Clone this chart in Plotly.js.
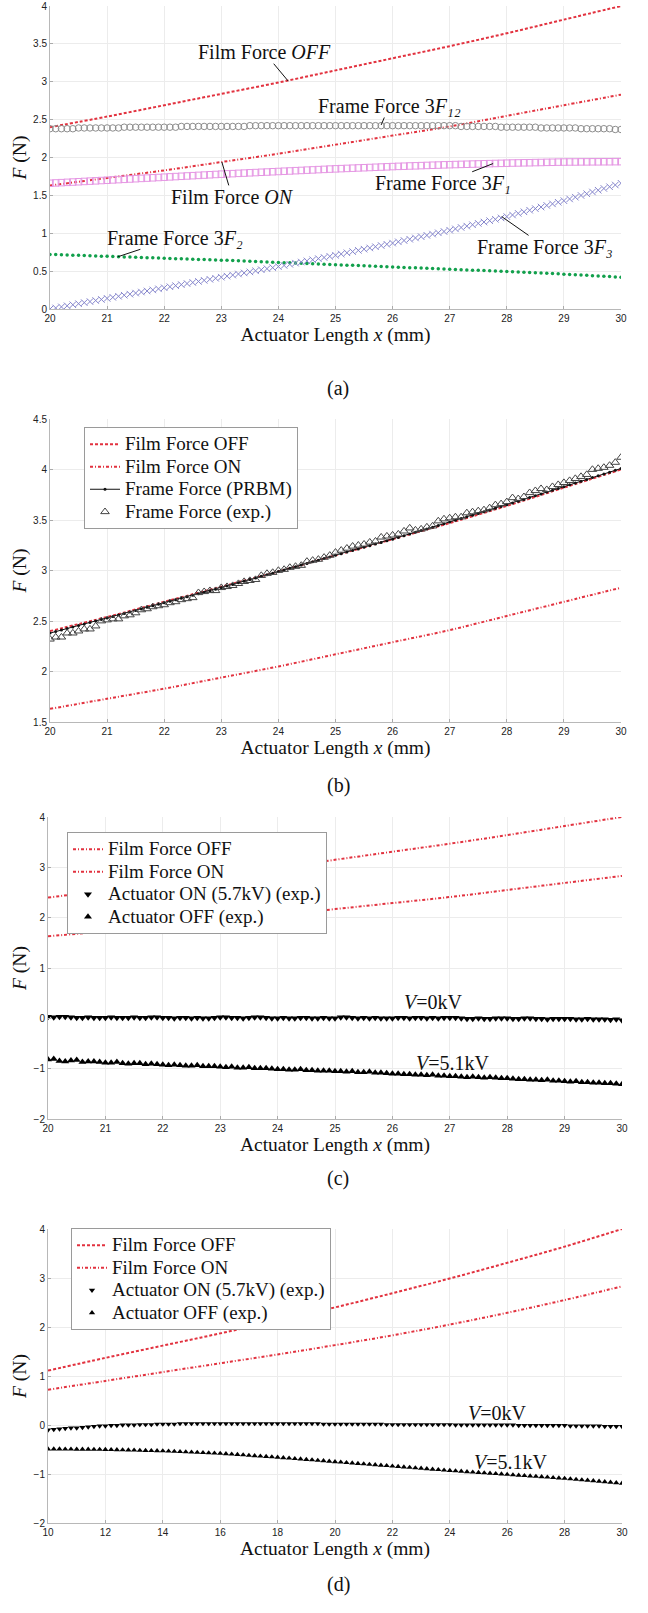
<!DOCTYPE html>
<html>
<head>
<meta charset="utf-8">
<script src="https://cdn.plot.ly/plotly-3.0.1.min.js"></script>
<style>html,body{margin:0;padding:0;background:#fff;}#chart{width:648px;height:1613px;}</style>
</head>
<body>
<div id="chart"></div>
<script>
// ---------- DATA ----------
// integer / even x positions for the film-force curves
const xInt = [20,21,22,23,24,25,26,27,28,29,30];
const xEven = [10,12,14,16,18,20,22,24,26,28,30];

// Film forces (panels a, b, c)
const filmOff = [2.40,2.54,2.69,2.84,2.99,3.15,3.31,3.47,3.64,3.82,4.00];
const filmOn  = [1.63,1.73,1.83,1.94,2.05,2.17,2.29,2.41,2.55,2.69,2.83];
// Film forces (panel d)
const filmOffD = [1.11,1.37,1.62,1.87,2.13,2.40,2.69,2.99,3.31,3.64,4.00];
const filmOnD  = [0.72,0.90,1.08,1.26,1.44,1.63,1.83,2.05,2.29,2.55,2.83];

// sample positions 20..30 (mm)
const xGrid = [20,20.1,20.2,20.3,20.4,20.5,20.6,20.7,20.8,20.9,
21,21.1,21.2,21.3,21.4,21.5,21.6,21.7,21.8,21.9,
22,22.1,22.2,22.3,22.4,22.5,22.6,22.7,22.8,22.9,
23,23.1,23.2,23.3,23.4,23.5,23.6,23.7,23.8,23.9,
24,24.1,24.2,24.3,24.4,24.5,24.6,24.7,24.8,24.9,
25,25.1,25.2,25.3,25.4,25.5,25.6,25.7,25.8,25.9,
26,26.1,26.2,26.3,26.4,26.5,26.6,26.7,26.8,26.9,
27,27.1,27.2,27.3,27.4,27.5,27.6,27.7,27.8,27.9,
28,28.1,28.2,28.3,28.4,28.5,28.6,28.7,28.8,28.9,
29,29.1,29.2,29.3,29.4,29.5,29.6,29.7,29.8,29.9,30];

// Frame force 3F12 (panel a)
const frame3F12 = [2.38,2.38,2.38,2.38,2.38,2.39,2.39,2.39,2.39,2.39,
2.39,2.39,2.39,2.40,2.40,2.40,2.40,2.40,2.40,2.40,
2.40,2.40,2.40,2.41,2.41,2.41,2.41,2.41,2.41,2.41,
2.41,2.41,2.41,2.41,2.41,2.42,2.42,2.42,2.42,2.42,
2.42,2.42,2.42,2.42,2.42,2.42,2.42,2.42,2.42,2.42,
2.42,2.42,2.42,2.42,2.42,2.42,2.42,2.42,2.42,2.42,
2.42,2.42,2.42,2.42,2.42,2.42,2.42,2.42,2.42,2.42,
2.42,2.42,2.41,2.41,2.41,2.41,2.41,2.41,2.41,2.40,
2.40,2.40,2.40,2.40,2.40,2.40,2.39,2.39,2.39,2.39,
2.39,2.39,2.39,2.38,2.38,2.38,2.38,2.38,2.38,2.37,2.37];

// Frame force 3F1 (panel a)
const frame3F1 = [1.660,1.664,1.668,1.672,1.676,1.680,1.684,1.688,1.692,1.696,
1.700,1.704,1.708,1.712,1.716,1.720,1.724,1.728,1.732,1.736,
1.740,1.744,1.748,1.752,1.756,1.760,1.764,1.768,1.772,1.776,
1.780,1.784,1.787,1.791,1.794,1.798,1.801,1.805,1.808,1.812,
1.815,1.819,1.822,1.826,1.829,1.833,1.836,1.840,1.843,1.847,
1.850,1.853,1.856,1.859,1.862,1.865,1.868,1.871,1.874,1.877,
1.880,1.883,1.885,1.888,1.890,1.893,1.895,1.898,1.900,1.903,
1.905,1.907,1.909,1.911,1.913,1.915,1.917,1.919,1.921,1.923,
1.925,1.927,1.928,1.930,1.931,1.933,1.934,1.936,1.937,1.939,
1.940,1.941,1.941,1.942,1.942,1.943,1.943,1.944,1.944,1.945,1.945];

// Frame force 3F2 (panel a)
const frame3F2 = [0.720,0.718,0.715,0.713,0.710,0.708,0.705,0.703,0.700,0.698,
0.695,0.693,0.690,0.688,0.685,0.683,0.680,0.678,0.675,0.673,
0.670,0.668,0.665,0.663,0.660,0.658,0.655,0.653,0.650,0.648,
0.645,0.642,0.639,0.636,0.633,0.630,0.627,0.624,0.621,0.618,
0.615,0.612,0.609,0.606,0.603,0.600,0.597,0.594,0.591,0.588,
0.585,0.582,0.579,0.576,0.573,0.570,0.567,0.564,0.561,0.558,
0.555,0.552,0.549,0.546,0.543,0.540,0.537,0.534,0.531,0.528,
0.525,0.522,0.519,0.516,0.513,0.510,0.507,0.504,0.501,0.498,
0.495,0.492,0.488,0.485,0.481,0.478,0.474,0.471,0.467,0.464,
0.460,0.456,0.452,0.448,0.444,0.440,0.436,0.432,0.428,0.424,0.420];

// Frame force 3F3 (panel a)
const frame3F3 = [0.000,0.014,0.028,0.042,0.056,0.070,0.084,0.098,0.112,0.126,
0.140,0.154,0.168,0.182,0.196,0.210,0.224,0.238,0.252,0.266,
0.280,0.294,0.308,0.322,0.336,0.350,0.364,0.378,0.392,0.406,
0.420,0.434,0.448,0.462,0.476,0.490,0.504,0.518,0.532,0.546,
0.560,0.575,0.590,0.605,0.620,0.635,0.650,0.665,0.680,0.695,
0.710,0.726,0.742,0.758,0.774,0.790,0.806,0.822,0.838,0.854,
0.870,0.887,0.904,0.921,0.938,0.955,0.972,0.989,1.006,1.023,
1.040,1.058,1.076,1.094,1.112,1.130,1.148,1.166,1.184,1.202,
1.220,1.241,1.262,1.283,1.304,1.325,1.346,1.367,1.388,1.409,
1.430,1.453,1.476,1.499,1.522,1.545,1.568,1.591,1.614,1.637,1.660];

// Frame force PRBM (panel b)
const framePRBM = [2.380,2.395,2.410,2.425,2.440,2.455,2.470,2.485,2.500,2.515,
2.530,2.545,2.560,2.575,2.590,2.605,2.620,2.635,2.650,2.665,
2.680,2.695,2.710,2.725,2.740,2.755,2.770,2.785,2.800,2.815,
2.830,2.846,2.862,2.878,2.894,2.910,2.926,2.942,2.958,2.974,
2.990,3.006,3.022,3.038,3.054,3.070,3.086,3.102,3.118,3.134,
3.150,3.166,3.182,3.198,3.214,3.230,3.246,3.262,3.278,3.294,
3.310,3.327,3.344,3.361,3.378,3.395,3.412,3.429,3.446,3.463,
3.480,3.497,3.514,3.531,3.548,3.565,3.582,3.599,3.616,3.633,
3.650,3.668,3.686,3.704,3.722,3.740,3.758,3.776,3.794,3.812,
3.830,3.848,3.866,3.884,3.902,3.920,3.938,3.956,3.974,3.992,4.010];

// Frame force experiment (panel b)
const frameExp = [2.32,2.34,2.34,2.38,2.38,2.40,2.42,2.42,2.45,2.50,
2.51,2.52,2.52,2.55,2.56,2.58,2.61,2.62,2.64,2.65,
2.66,2.68,2.69,2.71,2.72,2.73,2.78,2.79,2.80,2.80,
2.83,2.84,2.85,2.87,2.89,2.90,2.91,2.95,2.97,2.98,
3.00,3.01,3.03,3.04,3.05,3.09,3.10,3.11,3.13,3.15,
3.18,3.20,3.22,3.24,3.25,3.26,3.28,3.29,3.33,3.34,
3.35,3.36,3.39,3.42,3.40,3.41,3.43,3.44,3.49,3.51,
3.52,3.53,3.53,3.57,3.58,3.59,3.60,3.62,3.65,3.66,
3.68,3.72,3.71,3.73,3.77,3.79,3.81,3.80,3.83,3.85,
3.87,3.89,3.91,3.93,3.95,4.00,4.01,4.02,4.04,4.07,4.12];

// Actuator ON (5.7kV) exp. (panel c)
const actOnC = [0.03,0.02,0.03,0.03,0.02,0.01,0.01,0.02,0.01,0.01,
0.01,0.02,0.01,0.01,0.01,0.02,0.01,0.01,0.02,0.02,
0.01,0.01,0.00,0.01,0.01,0.00,0.01,0.00,0.00,0.01,
0.02,0.02,0.01,0.01,0.00,0.01,0.02,0.02,0.01,0.00,
0.00,0.01,0.00,0.00,0.01,0.01,0.00,0.00,0.01,0.00,
0.00,0.02,0.02,0.01,0.00,0.01,0.00,0.01,0.00,0.00,
0.00,0.01,0.01,0.00,0.01,0.01,0.00,0.01,0.00,0.01,
0.01,0.01,0.00,-0.01,-0.01,0.00,-0.01,-0.01,0.00,0.00,
0.00,-0.01,-0.01,0.00,0.00,-0.01,-0.01,-0.02,-0.01,-0.01,
-0.01,-0.01,-0.02,-0.02,-0.01,-0.02,-0.02,-0.02,-0.03,-0.02,-0.04];

// Actuator OFF exp. (panel c)
const actOffC = [-0.82,-0.81,-0.85,-0.86,-0.84,-0.83,-0.87,-0.86,-0.86,-0.87,
-0.88,-0.88,-0.87,-0.89,-0.90,-0.89,-0.89,-0.91,-0.90,-0.91,
-0.92,-0.93,-0.92,-0.93,-0.94,-0.94,-0.93,-0.95,-0.95,-0.95,
-0.96,-0.97,-0.96,-0.98,-0.98,-0.97,-0.99,-0.99,-0.99,-1.00,
-1.01,-1.01,-1.02,-1.02,-1.01,-1.03,-1.03,-1.04,-1.04,-1.04,
-1.05,-1.05,-1.06,-1.05,-1.07,-1.07,-1.06,-1.08,-1.08,-1.09,
-1.10,-1.10,-1.11,-1.11,-1.12,-1.12,-1.13,-1.12,-1.14,-1.14,
-1.15,-1.15,-1.16,-1.17,-1.16,-1.17,-1.18,-1.17,-1.18,-1.19,
-1.19,-1.20,-1.21,-1.21,-1.22,-1.22,-1.23,-1.22,-1.24,-1.24,
-1.25,-1.26,-1.25,-1.27,-1.27,-1.28,-1.28,-1.29,-1.29,-1.30,-1.31];

// sample positions 10..30 (mm) for panel d
const xGridD = [10,10.2,10.4,10.6,10.8,11,11.2,11.4,11.6,11.8,
12,12.2,12.4,12.6,12.8,13,13.2,13.4,13.6,13.8,
14,14.2,14.4,14.6,14.8,15,15.2,15.4,15.6,15.8,
16,16.2,16.4,16.6,16.8,17,17.2,17.4,17.6,17.8,
18,18.2,18.4,18.6,18.8,19,19.2,19.4,19.6,19.8,
20,20.2,20.4,20.6,20.8,21,21.2,21.4,21.6,21.8,
22,22.2,22.4,22.6,22.8,23,23.2,23.4,23.6,23.8,
24,24.2,24.4,24.6,24.8,25,25.2,25.4,25.6,25.8,
26,26.2,26.4,26.6,26.8,27,27.2,27.4,27.6,27.8,
28,28.2,28.4,28.6,28.8,29,29.2,29.4,29.6,29.8,30];

// Actuator ON (5.7kV) exp. (panel d)
const actOnD = [-0.10,-0.09,-0.08,-0.07,-0.06,-0.06,-0.05,-0.04,-0.03,-0.02,
-0.02,-0.01,-0.01,0.00,0.00,0.00,0.01,0.01,0.01,0.02,
0.02,0.02,0.02,0.03,0.03,0.03,0.03,0.03,0.03,0.03,
0.03,0.03,0.03,0.03,0.03,0.03,0.03,0.03,0.03,0.03,
0.03,0.03,0.03,0.03,0.03,0.03,0.03,0.03,0.02,0.02,
0.02,0.02,0.02,0.02,0.02,0.02,0.02,0.02,0.02,0.01,
0.01,0.01,0.01,0.01,0.01,0.01,0.01,0.01,0.01,0.01,
0.01,0.00,0.00,0.00,0.00,0.00,0.00,0.00,0.00,0.00,
0.00,0.00,-0.01,-0.01,-0.01,-0.01,-0.01,-0.01,-0.01,-0.01,
-0.01,-0.02,-0.02,-0.02,-0.02,-0.02,-0.02,-0.03,-0.03,-0.03,-0.03];

// Actuator OFF exp. (panel d)
const actOffD = [-0.490,-0.491,-0.492,-0.493,-0.494,-0.495,-0.496,-0.497,-0.498,-0.499,
-0.500,-0.503,-0.506,-0.509,-0.512,-0.515,-0.518,-0.521,-0.524,-0.527,
-0.530,-0.535,-0.540,-0.545,-0.550,-0.555,-0.560,-0.565,-0.570,-0.575,
-0.580,-0.588,-0.596,-0.604,-0.612,-0.620,-0.628,-0.636,-0.644,-0.652,
-0.660,-0.669,-0.678,-0.687,-0.696,-0.705,-0.714,-0.723,-0.732,-0.741,
-0.750,-0.759,-0.768,-0.777,-0.786,-0.795,-0.804,-0.813,-0.822,-0.831,
-0.840,-0.849,-0.858,-0.867,-0.876,-0.885,-0.894,-0.903,-0.912,-0.921,
-0.930,-0.938,-0.946,-0.954,-0.962,-0.970,-0.978,-0.986,-0.994,-1.002,
-1.010,-1.018,-1.026,-1.034,-1.042,-1.050,-1.058,-1.066,-1.074,-1.082,
-1.090,-1.100,-1.110,-1.120,-1.130,-1.140,-1.150,-1.160,-1.170,-1.180,-1.190];

// tick values
const ticksA = [0,0.5,1,1.5,2,2.5,3,3.5,4];
const ticksB = [1.5,2,2.5,3,3.5,4,4.5];
const ticksCD = [-2,-1,0,1,2,3,4];
const xTicks = [20,21,22,23,24,25,26,27,28,29,30];
const xTicksD = [10,12,14,16,18,20,22,24,26,28,30];

// ---------- STYLE ----------
const SERIF = '"Liberation Serif", "Times New Roman", serif';
const SANS = '"Liberation Sans", Arial, sans-serif';
const RED = '#e2323f';
const W = 648, H = 1613;
const px = v => v / W;
const py = v => 1 - v / H;
const big = s => '<span style="font-size:19px">' + s + '</span>';

function xAxis(dom, anchor, range, ticks) {
  return {
    domain: dom, anchor: anchor, range: range, tickvals: ticks,
    showgrid: true, gridcolor: '#ececec', gridwidth: 1,
    showline: true, linecolor: '#b8b8b8', linewidth: 1,
    ticks: 'inside', ticklen: 3, tickcolor: '#aaa',
    zeroline: false,
    tickfont: {family: SANS, size: 10, color: '#222'},
    title: {text: 'Actuator Length <i>x</i> (mm)', font: {family: SERIF, size: 19.5, color: '#111'}, standoff: 4}
  };
}
function yAxis(dom, anchor, range, ticks) {
  return {
    domain: dom, anchor: anchor, range: range, tickvals: ticks,
    showgrid: true, gridcolor: '#ececec', gridwidth: 1,
    showline: true, linecolor: '#b8b8b8', linewidth: 1,
    ticks: 'inside', ticklen: 3, tickcolor: '#aaa',
    zeroline: false,
    tickfont: {family: SANS, size: 10, color: '#222'},
    title: {text: '<i>F</i> (N)', font: {family: SERIF, size: 19.5, color: '#111'}, standoff: 1}
  };
}

const offDash = '3px,2px';
const onDash = '3px,2px,1px,2px';

const traces = [
  // panel (a)
  {x: xInt, y: filmOff, xaxis: 'x', yaxis: 'y', mode: 'lines', line: {color: RED, width: 2, dash: offDash, shape: 'spline'}, showlegend: false, name: 'Film Force OFF'},
  {x: xInt, y: filmOn, xaxis: 'x', yaxis: 'y', mode: 'lines', line: {color: RED, width: 2, dash: onDash, shape: 'spline'}, showlegend: false, name: 'Film Force ON'},
  {x: xGrid, y: frame3F12, xaxis: 'x', yaxis: 'y', mode: 'markers', marker: {symbol: 'circle-open', size: 6.5, color: '#8c8c8c', line: {width: 1}}, showlegend: false, name: 'Frame Force 3F12'},
  {x: xGrid, y: frame3F1, xaxis: 'x', yaxis: 'y', mode: 'markers', marker: {symbol: 'square-open', size: 6.5, color: '#e596e3', line: {width: 1}}, showlegend: false, name: 'Frame Force 3F1'},
  {x: xGrid, y: frame3F2, xaxis: 'x', yaxis: 'y', mode: 'markers', marker: {symbol: 'circle', size: 3.5, color: '#12a04c'}, showlegend: false, name: 'Frame Force 3F2'},
  {x: xGrid, y: frame3F3, xaxis: 'x', yaxis: 'y', mode: 'markers', marker: {symbol: 'x-thin-open', size: 6.5, color: '#8585cc', line: {width: 1, color: '#8585cc'}}, showlegend: false, name: 'Frame Force 3F3'},
  // panel (b)
  {x: xInt, y: filmOff, xaxis: 'x2', yaxis: 'y2', mode: 'lines', line: {color: RED, width: 2, dash: offDash, shape: 'spline'}, name: big('Film Force OFF'), legend: 'legend'},
  {x: xInt, y: filmOn, xaxis: 'x2', yaxis: 'y2', mode: 'lines', line: {color: RED, width: 2, dash: onDash, shape: 'spline'}, name: big('Film Force ON'), legend: 'legend'},
  {x: xGrid, y: framePRBM, xaxis: 'x2', yaxis: 'y2', mode: 'lines+markers', line: {color: '#111', width: 1}, marker: {symbol: 'circle', size: 3, color: '#111'}, name: big('Frame Force (PRBM)'), legend: 'legend'},
  {x: xGrid, y: frameExp, xaxis: 'x2', yaxis: 'y2', mode: 'markers', marker: {symbol: 'triangle-up-open', size: 7.5, color: '#444', line: {width: 1}}, name: big('Frame Force (exp.)'), legend: 'legend'},
  // panel (c)
  {x: xInt, y: filmOff, xaxis: 'x3', yaxis: 'y3', mode: 'lines', line: {color: RED, width: 2, dash: onDash, shape: 'spline'}, name: big('Film Force OFF'), legend: 'legend2'},
  {x: xInt, y: filmOn, xaxis: 'x3', yaxis: 'y3', mode: 'lines', line: {color: RED, width: 2, dash: onDash, shape: 'spline'}, name: big('Film Force ON'), legend: 'legend2'},
  {x: xGrid, y: actOnC, xaxis: 'x3', yaxis: 'y3', mode: 'markers', marker: {symbol: 'triangle-down', size: 7, color: '#000'}, name: big('Actuator ON (5.7kV) (exp.)'), legend: 'legend2'},
  {x: xGrid, y: actOffC, xaxis: 'x3', yaxis: 'y3', mode: 'markers', marker: {symbol: 'triangle-up', size: 7, color: '#000'}, name: big('Actuator OFF (exp.)'), legend: 'legend2'},
  // panel (d)
  {x: xEven, y: filmOffD, xaxis: 'x4', yaxis: 'y4', mode: 'lines', line: {color: RED, width: 2, dash: offDash, shape: 'spline'}, name: big('Film Force OFF'), legend: 'legend3'},
  {x: xEven, y: filmOnD, xaxis: 'x4', yaxis: 'y4', mode: 'lines', line: {color: RED, width: 2, dash: onDash, shape: 'spline'}, name: big('Film Force ON'), legend: 'legend3'},
  {x: xGridD, y: actOnD, xaxis: 'x4', yaxis: 'y4', mode: 'markers', marker: {symbol: 'triangle-down', size: 5.5, color: '#000'}, name: big('Actuator ON (5.7kV) (exp.)'), legend: 'legend3'},
  {x: xGridD, y: actOffD, xaxis: 'x4', yaxis: 'y4', mode: 'markers', marker: {symbol: 'triangle-up', size: 5.5, color: '#000'}, name: big('Actuator OFF (exp.)'), legend: 'legend3'}
];

const legendStyle = (x, y) => ({
  x: x, y: y, xanchor: 'left', yanchor: 'top', xref: 'paper', yref: 'paper',
  bgcolor: '#fff', bordercolor: '#9a9a9a', borderwidth: 1,
  font: {family: SERIF, size: 15, color: '#111'},
  itemwidth: 30, tracegroupgap: 0
});

const annFont = {family: SERIF, size: 20, color: '#111'};
function callout(xr, yr, text, tx, ty, hx, hy) {
  return {xref: xr, yref: yr, axref: xr, ayref: yr, x: hx, y: hy, ax: tx, ay: ty,
    text: text, showarrow: true, arrowhead: 0, arrowwidth: 1, arrowcolor: '#111', standoff: 0, startstandoff: 0,
    font: annFont, borderpad: 0};
}
function label(xr, yr, text, x, y, size) {
  return {xref: xr, yref: yr, x: x, y: y, text: text, showarrow: false, font: {family: SERIF, size: size || 20, color: '#111'}};
}

const layout = {
  width: W, height: H,
  margin: {l: 0, r: 0, t: 0, b: 0},
  paper_bgcolor: '#fff', plot_bgcolor: '#fff',
  xaxis:  xAxis([px(50), px(621)], 'y',  [20, 30], xTicks),
  yaxis:  yAxis([py(309), py(6)], 'x',  [0, 4], ticksA),
  xaxis2: xAxis([px(50), px(621)], 'y2', [20, 30], xTicks),
  yaxis2: yAxis([py(722), py(419)], 'x2', [1.5, 4.5], ticksB),
  xaxis3: xAxis([px(48), px(622)], 'y3', [20, 30], xTicks),
  yaxis3: yAxis([py(1119), py(817)], 'x3', [-2, 4], ticksCD),
  xaxis4: xAxis([px(48), px(622)], 'y4', [10, 30], xTicksD),
  yaxis4: yAxis([py(1523), py(1229)], 'x4', [-2, 4], ticksCD),
  legend:  legendStyle(px(84), py(427)),
  legend2: legendStyle(px(67), py(832)),
  legend3: legendStyle(px(71), py(1228)),
  annotations: [
    callout('x', 'y', 'Film Force <i>OFF</i>', 23.75, 3.39, 24.17, 3.01),
    callout('x', 'y', 'Frame Force 3<i>F\u2081\u2082</i>', 25.94, 2.68, 25.80, 2.43),
    callout('x', 'y', 'Film Force <i>ON</i>', 23.19, 1.48, 23.01, 1.94),
    callout('x', 'y', 'Frame Force 3<i>F\u2081</i>', 26.88, 1.66, 27.76, 1.92),
    callout('x', 'y', 'Frame Force 3<i>F\u2082</i>', 22.19, 0.94, 21.19, 0.69),
    callout('x', 'y', 'Frame Force 3<i>F\u2083</i>', 28.67, 0.82, 27.91, 1.22),
    label('x3', 'y3', '<i>V</i>=0kV', 26.71, 0.32),
    label('x3', 'y3', '<i>V</i>=5.1kV', 27.04, -0.89),
    label('x4', 'y4', '<i>V</i>=0kV', 25.64, 0.245),
    label('x4', 'y4', '<i>V</i>=5.1kV', 26.13, -0.755),
    label('paper', 'paper', '(a)', px(338), py(375)),
    label('paper', 'paper', '(b)', px(338), py(785)),
    label('paper', 'paper', '(c)', px(338), py(1192)),
    label('paper', 'paper', '(d)', px(338), py(1598))
  ]
};

Plotly.newPlot('chart', traces, layout, {staticPlot: true, displayModeBar: false});
</script>
</body>
</html>
